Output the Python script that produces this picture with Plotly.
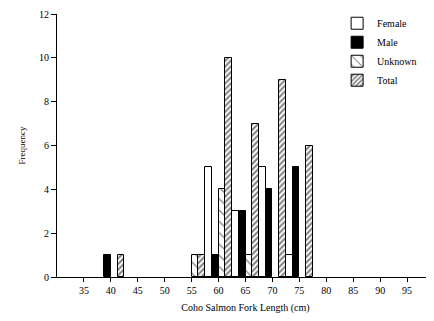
import plotly.graph_objects as go

bins = [40, 45, 50, 55, 60, 65, 70, 75]
female = [None, None, None, None, 5, 3, 5, 1]
male = [1, None, None, None, 1, 3, 4, 5]
unknown = [None, None, None, 1, 4, 1, None, None]
total = [1, None, None, 1, 10, 7, 9, 6]
x_ticks = [35, 40, 45, 50, 55, 60, 65, 70, 75, 80, 85, 90, 95]
y_ticks = [0, 2, 4, 6, 8, 10, 12]

FONT = "Liberation Serif, Times New Roman, serif"
line = dict(color="black", width=1)

fig = go.Figure()
fig.add_trace(go.Bar(x=bins, y=female, name="Female",
                     marker=dict(color="white", line=line)))
fig.add_trace(go.Bar(x=bins, y=male, name="Male",
                     marker=dict(color="black", line=line)))
fig.add_trace(go.Bar(x=bins, y=unknown, name="Unknown",
                     marker=dict(color="white", line=line,
                                 pattern=dict(shape="\\", size=8, solidity=0.15,
                                              fgcolor="black", bgcolor="white",
                                              fillmode="overlay"))))
fig.add_trace(go.Bar(x=bins, y=total, name="Total",
                     marker=dict(color="white", line=line,
                                 pattern=dict(shape="/", size=4, solidity=0.5,
                                              fgcolor="black", bgcolor="white",
                                              fillmode="overlay"))))

fig.update_layout(
    width=426, height=313,
    margin=dict(l=49, r=0, t=6, b=44, autoexpand=False),
    paper_bgcolor="white", plot_bgcolor="white",
    barmode="group", bargap=0, bargroupgap=0,
    font=dict(family=FONT, size=10, color="black"),
    showlegend=True,
    legend=dict(x=0.743, y=1.02, xanchor="left", yanchor="top",
                font=dict(family=FONT, size=10), bgcolor="rgba(0,0,0,0)",
                tracegroupgap=0, itemwidth=30),
    xaxis=dict(range=[30, 100], tickvals=x_ticks, showline=True, linecolor="black",
               linewidth=1, ticks="outside", ticklen=4, tickcolor="black",
               showgrid=False, zeroline=False, automargin=False,
               tickfont=dict(size=10),
               title=dict(text="Coho Salmon Fork Length (cm)", standoff=8,
                          font=dict(size=10))),
    yaxis=dict(range=[0, 12], tickvals=y_ticks, showline=True, linecolor="black",
               linewidth=1, ticks="outside", ticklen=5, tickcolor="black",
               showgrid=False, zeroline=False, automargin=False,
               tickfont=dict(size=10),
               title=dict(text="Frequency", standoff=11, font=dict(size=9))),
)

fig.write_html("out.html")
